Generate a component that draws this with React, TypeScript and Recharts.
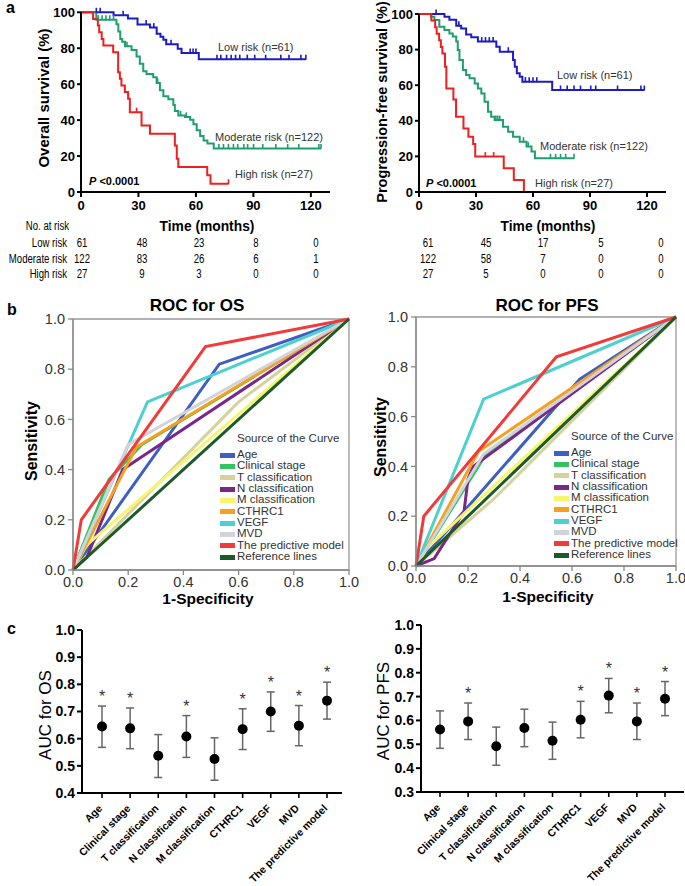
import React from 'react';
import { ComposedChart, Line, Scatter, XAxis, YAxis, ReferenceArea, ErrorBar } from 'recharts';

const FONT = 'Arial, "Liberation Sans", sans-serif';

// ---------- Panel a: Kaplan-Meier ----------
const kmTicksX = [0, 30, 60, 90, 120];
const kmTicksY = [0, 20, 40, 60, 80, 100];

const osLow: [number, number][] = [[0, 100], [17, 98.3], [24.5, 96.6], [29.5, 93.2], [36, 91.5], [39.5, 88.1], [41.5, 86.4], [43, 84.7], [44.5, 82.2], [50.5, 79.7], [52.5, 77.3], [61.5, 73.9], [117.4, 73.9]];
const osLowCens = [8, 10, 22, 34, 38, 47, 57, 58.5, 60, 71, 73, 76, 78.4, 80.7, 82.9, 86.8, 90.7, 96.4, 104.3, 108.6, 114.8, 117.4];
const osMod: [number, number][] = [[0, 100], [8, 95.9], [18.5, 93.4], [19.5, 89.3], [20.5, 85.2], [21.5, 83.6], [23, 81.1], [26.4, 79], [29, 75.4], [30.7, 71.3], [32.5, 67.2], [34.2, 65.6], [37.7, 63.9], [39.5, 60.7], [41.2, 56.6], [43, 53.3], [45.6, 51.6], [48.2, 48.4], [49, 45.1], [50.8, 42.6], [54.3, 41.8], [57, 40.2], [58.7, 37.7], [60.4, 34.4], [62.2, 31.1], [64, 28.7], [66, 27], [69.3, 24.2], [125.3, 24.2]];
const osModCens = [9, 11, 13, 15, 17, 24, 40, 52, 55, 72, 74.4, 77, 79.6, 81.8, 85, 87, 90.1, 94.9, 101.7, 107.9, 113.7, 124.2, 125.3];
const osHigh: [number, number][] = [[0, 100], [6.3, 96.3], [8.8, 92.6], [9.5, 88.9], [10.8, 85.2], [11.7, 81.5], [16.8, 77.8], [19.4, 66.7], [20.3, 63], [21.1, 59.3], [22.9, 55.6], [24.6, 51.9], [25.5, 44.4], [31.6, 37], [36, 32.4], [49, 25.9], [50, 18.5], [50.8, 13.9], [65.9, 9.3], [67.6, 4.6], [77, 4.6]];
const osHighCens = [29, 77];

const pfsLow: [number, number][] = [[0, 100], [13.4, 98.4], [16, 96.7], [19.6, 93.4], [22.2, 91.8], [24.8, 88.5], [27.5, 86.9], [31, 84.5], [40.7, 81.6], [42.5, 78.8], [49.5, 74.2], [50.4, 70.4], [51.5, 66.7], [53, 64.8], [54.4, 62], [70.1, 57.3], [118.6, 57.3]];
const pfsLowCens = [9, 21, 33, 35, 37, 39, 47, 56, 58, 60, 62, 74.5, 78, 81.6, 85, 90.4, 93, 104.5, 116.8, 118.6];
const pfsMod: [number, number][] = [[0, 100], [6.3, 98.4], [8.1, 96.6], [10.7, 92.9], [13.4, 91], [16, 89.1], [17.8, 87.3], [19.6, 84.5], [20.4, 79.8], [21.3, 74.2], [23.1, 68.5], [24.8, 65.7], [26.6, 63.9], [29.3, 61], [31, 58.2], [32.8, 55.4], [34.5, 50.7], [36.3, 45.1], [38, 42.3], [39.8, 40.4], [44.2, 36.7], [46.9, 33.9], [49.5, 31.1], [53, 28.3], [56.6, 25.5], [59.2, 22.7], [61, 18.9], [81.6, 18.9]];
const pfsModCens = [40.5, 41.5, 42.5, 55, 57.5, 69.2, 71.9, 74.5, 77.2, 81.6];
const pfsHigh: [number, number][] = [[0, 100], [6.5, 96.3], [8.5, 92.6], [9.3, 88.9], [10.6, 85.2], [11.5, 81.5], [12.3, 77.8], [13.7, 70.4], [14.4, 58.2], [18.1, 51.9], [19.5, 42.3], [23.4, 35.7], [26, 31], [28.5, 27], [29.6, 19.9], [44.6, 13.3], [49.9, 6.7], [55.2, 0]];
const pfsHighCens = [34.9, 39.3];

const atRiskGroups = ['Low risk', 'Moderate risk', 'High risk'];
const osAtRisk = [[61, 48, 23, 8, 0], [122, 83, 26, 6, 1], [27, 9, 3, 0, 0]];
const pfsAtRisk = [[61, 45, 17, 5, 0], [122, 58, 7, 0, 0], [27, 5, 0, 0, 0]];

const KM_LOW = '#1c1cc0';
const KM_MOD = '#1f9e6e';
const KM_HIGH = '#ee1f1f';

// ---------- Panel b: ROC ----------
const rocNames = ['Age', 'Clinical stage', 'T classification', 'N classification', 'M classification', 'CTHRC1', 'VEGF', 'MVD', 'The predictive model', 'Reference lines'];
const rocColors = ['#3e5fc2', '#35c262', '#d5d29c', '#7a2888', '#f7f56e', '#f5a11f', '#4dd0cf', '#d2d2da', '#f23a3a', '#1d5a2a'];
const rocOS: [number, number][][] = [
  [[0, 0], [0.53, 0.82], [1, 1]],
  [[0, 0], [0.13, 0.36], [0.25, 0.5], [1, 1]],
  [[0, 0], [0.6, 0.67], [1, 1]],
  [[0, 0], [0.05, 0.05], [0.18, 0.4], [1, 1]],
  [[0, 0], [0.05, 0.1], [1, 1]],
  [[0, 0], [0.15, 0.32], [0.23, 0.49], [1, 1]],
  [[0, 0], [0.27, 0.67], [1, 1]],
  [[0, 0], [0.2, 0.5], [1, 1]],
  [[0, 0], [0.03, 0.2], [0.48, 0.89], [1, 1]],
  [[0, 0], [1, 1]],
];
const rocPFS: [number, number][][] = [
  [[0, 0], [0.63, 0.75], [1, 1]],
  [[0, 0], [0.27, 0.45], [1, 1]],
  [[0, 0], [0.3, 0.27], [1, 1]],
  [[0, 0], [0.07, 0.03], [0.185, 0.22], [0.2, 0.35], [0.22, 0.4], [1, 1]],
  [[0, 0], [0.04, 0.07], [1, 1]],
  [[0, 0], [0.24, 0.46], [1, 1]],
  [[0, 0], [0.26, 0.67], [1, 1]],
  [[0, 0], [0.26, 0.45], [1, 1]],
  [[0, 0], [0.03, 0.2], [0.54, 0.84], [1, 1]],
  [[0, 0], [1, 1]],
];
const rocTicks = [0, 0.2, 0.4, 0.6, 0.8, 1.0];

// ---------- Panel c: AUC ----------
const aucCats = ['Age', 'Clinical stage', 'T classification', 'N classification', 'M classification', 'CTHRC1', 'VEGF', 'MVD', 'The predictive model'];
const osAuc = [0.645, 0.638, 0.537, 0.608, 0.525, 0.635, 0.700, 0.648, 0.740];
const osLo = [0.568, 0.563, 0.457, 0.531, 0.447, 0.560, 0.627, 0.574, 0.672];
const osHi = [0.720, 0.713, 0.615, 0.685, 0.603, 0.710, 0.772, 0.722, 0.808];
const osSig = [true, true, false, true, false, true, true, true, true];
const pfsAuc = [0.562, 0.596, 0.492, 0.568, 0.515, 0.603, 0.704, 0.596, 0.691];
const pfsLo = [0.483, 0.520, 0.412, 0.490, 0.437, 0.527, 0.632, 0.520, 0.620];
const pfsHi = [0.640, 0.673, 0.572, 0.647, 0.593, 0.680, 0.776, 0.673, 0.763];
const pfsSig = [false, true, false, false, false, true, true, true, true];
const osAucTicks = [0.4, 0.5, 0.6, 0.7, 0.8, 0.9, 1.0];
const pfsAucTicks = [0.3, 0.4, 0.5, 0.6, 0.7, 0.8, 0.9, 1.0];

// ---------- helpers ----------
const toSteps = (a: [number, number][]) => a.map(([t, s]) => ({ t, s }));
const survAt = (a: [number, number][], t: number) => {
  let s = a[0][1];
  for (const [tt, ss] of a) if (tt <= t) s = ss;
  return s;
};
const toCens = (a: [number, number][], times: number[]) => times.map((t) => ({ t, s: survAt(a, t) }));
const toXY = (a: [number, number][]) => a.map(([x, y]) => ({ x, y }));
const aucRows = (auc: number[], lo: number[], hi: number[], sig: boolean[]) =>
  aucCats.map((name, i) => ({ name, auc: auc[i], hi: hi[i], sig: sig[i], err: [auc[i] - lo[i], hi[i] - auc[i]] }));

const censorShape = (color: string) => (p: any) =>
  p.cx == null ? <g /> : <line x1={p.cx} x2={p.cx} y1={p.cy - 4.5} y2={p.cy + 0.5} stroke={color} strokeWidth={1.6} />;

const Txt = ({ x, y, children, size = 12, weight = 400, anchor = 'start', color = '#000', rotate = false, sx = 1 }: any) => {
  const tx = anchor === 'middle' ? '-50%' : anchor === 'end' ? '-100%' : '0';
  const origin = anchor === 'middle' ? 'center' : anchor === 'end' ? 'right' : 'left';
  return (
    <div
      style={{
        position: 'absolute', left: x, top: y, fontSize: size, fontWeight: weight, color, fontFamily: FONT,
        whiteSpace: 'nowrap', lineHeight: 1, transform: rotate ? 'translate(-50%,-50%) rotate(-90deg)' : `translate(${tx},-50%)`,
      }}
    >
      <span style={{ display: 'inline-block', transform: sx !== 1 ? `scaleX(${sx})` : undefined, transformOrigin: origin }}>{children}</span>
    </div>
  );
};

const Box = ({ left, top, children }: any) => <div style={{ position: 'absolute', left, top }}>{children}</div>;

function KMChart({ w, h, margin, yw, groups }: any) {
  return (
    <ComposedChart width={w} height={h} margin={margin}>
      <XAxis type="number" dataKey="t" domain={[0, 130]} ticks={kmTicksX} allowDataOverflow height={20}
        tick={{ fontSize: 13, fontWeight: 700, fill: '#000', fontFamily: FONT }} tickSize={5} tickMargin={4}
        axisLine={{ stroke: '#000', strokeWidth: 2 }} tickLine={{ stroke: '#000', strokeWidth: 2 }} />
      <YAxis type="number" domain={[0, 100]} ticks={kmTicksY} width={yw}
        tick={{ fontSize: 13, fontWeight: 700, fill: '#000', fontFamily: FONT }} tickSize={4} tickMargin={2}
        axisLine={{ stroke: '#000', strokeWidth: 2 }} tickLine={{ stroke: '#000', strokeWidth: 2 }} />
      {groups.map((g: any, i: number) => (
        <Line key={'l' + i} data={toSteps(g.steps)} dataKey="s" type="stepAfter" stroke={g.color} strokeWidth={2} dot={false} isAnimationActive={false} />
      ))}
      {groups.map((g: any, i: number) => (
        <Scatter key={'c' + i} data={toCens(g.steps, g.cens)} dataKey="s" shape={censorShape(g.color)} isAnimationActive={false} />
      ))}
    </ComposedChart>
  );
}

function ROCChart({ w, h, margin, yw, curves }: any) {
  const tickStyle = { fontSize: 14.5, fill: '#333', fontFamily: FONT };
  return (
    <ComposedChart width={w} height={h} margin={margin}>
      <XAxis type="number" dataKey="x" domain={[0, 1]} ticks={rocTicks} tickFormatter={(v: number) => v.toFixed(1)} height={30}
        tick={tickStyle} tickSize={5} tickMargin={2} axisLine={{ stroke: '#888', strokeWidth: 1.3 }} tickLine={{ stroke: '#888', strokeWidth: 1.3 }} />
      <YAxis type="number" domain={[0, 1]} ticks={rocTicks} tickFormatter={(v: number) => v.toFixed(1)} width={yw}
        tick={tickStyle} tickSize={5} tickMargin={3} axisLine={{ stroke: '#888', strokeWidth: 1.3 }} tickLine={{ stroke: '#888', strokeWidth: 1.3 }} />
      <ReferenceArea x1={0} x2={1} y1={0} y2={1} fill="none" stroke="#999" strokeWidth={1.3} ifOverflow="visible" />
      {curves.map((c: [number, number][], i: number) => (
        <Line key={i} data={toXY(c)} dataKey="y" type="linear" stroke={rocColors[i]} strokeWidth={3} dot={false} isAnimationActive={false} />
      ))}
    </ComposedChart>
  );
}

const RotTick = (p: any) => {
  const { x, y, payload } = p;
  const ax = x + 1;
  const ay = y + 9;
  return (
    <text x={ax} y={ay} transform={`rotate(-45 ${ax} ${ay})`} textAnchor="end" fontSize={10.5} fontWeight={700} fontFamily={FONT} fill="#000">
      {payload.value}
    </text>
  );
};

const dotShape = (p: any) => (p.cx == null ? <g /> : <circle cx={p.cx} cy={p.cy} r={5} fill="#000" />);
const starShape = (p: any) =>
  p.cx == null || !p.payload.sig ? <g /> : (
    <text x={p.cx} y={p.cy - 4} textAnchor="middle" fontSize={16} fill="#333" fontFamily={FONT}>*</text>
  );

function AUCChart({ w, h, margin, yw, rows, domain, ticks, pad }: any) {
  return (
    <ComposedChart width={w} height={h} margin={margin} data={rows}>
      <XAxis type="category" dataKey="name" interval={0} height={80} padding={pad} tick={<RotTick />} tickSize={5}
        axisLine={{ stroke: '#000', strokeWidth: 2 }} tickLine={{ stroke: '#000', strokeWidth: 1.6 }} />
      <YAxis type="number" domain={domain} ticks={ticks} tickFormatter={(v: number) => v.toFixed(1)} width={yw}
        tick={{ fontSize: 14, fontWeight: 700, fill: '#000', fontFamily: FONT }} tickSize={5} tickMargin={2}
        axisLine={{ stroke: '#000', strokeWidth: 2 }} tickLine={{ stroke: '#000', strokeWidth: 2 }} />
      <Scatter dataKey="auc" shape={dotShape} isAnimationActive={false}>
        <ErrorBar dataKey="err" direction="y" width={4} stroke="#666" strokeWidth={1.5} />
      </Scatter>
      <Scatter dataKey="hi" shape={starShape} isAnimationActive={false} />
    </ComposedChart>
  );
}

const Legend = ({ y, swatchX, textX }: any) => (
  <>
    <Txt x={textX} y={y} size={11.5} color="#333">Source of the Curve</Txt>
    {rocNames.map((n, i) => (
      <React.Fragment key={n}>
        <div style={{ position: 'absolute', left: swatchX, top: y + 16 + i * 11.35 - 2.5, width: 15, height: 5, background: rocColors[i] }} />
        <Txt x={textX} y={y + 16 + i * 11.35} size={11.5} color="#333">{n}</Txt>
      </React.Fragment>
    ))}
  </>
);

export default function App() {
  const leftCols = [82, 142, 199, 256, 316];
  const rightCols = [428, 486, 543, 601, 661];
  const rowY = [243, 259, 274];
  const SX = 0.8;
  return (
    <div style={{ position: 'absolute', left: 0, top: 0, width: 685, height: 886, background: '#fff', overflow: 'hidden', fontFamily: FONT }}>
      {/* Panel a */}
      <Txt x={6} y={8} size={16} weight={700}>a</Txt>
      <Box left={0} top={0}>
        <KMChart w={340} h={215} yw={81} margin={{ top: 12.3, right: 10, bottom: 3, left: 0 }}
          groups={[{ steps: osLow, cens: osLowCens, color: KM_LOW }, { steps: osMod, cens: osModCens, color: KM_MOD }, { steps: osHigh, cens: osHighCens, color: KM_HIGH }]} />
      </Box>
      <Box left={340} top={0}>
        <KMChart w={345} h={215} yw={79} margin={{ top: 14, right: 19, bottom: 3, left: 0 }}
          groups={[{ steps: pfsLow, cens: pfsLowCens, color: KM_LOW }, { steps: pfsMod, cens: pfsModCens, color: KM_MOD }, { steps: pfsHigh, cens: pfsHighCens, color: KM_HIGH }]} />
      </Box>
      <Txt x={43} y={98} size={15} weight={700} rotate>Overall survival (%)</Txt>
      <Txt x={382} y={102} size={14.5} weight={700} rotate>Progression-free survival (%)</Txt>
      <Txt x={218} y={47} size={11} color="#333">Low risk (n=61)</Txt>
      <Txt x={215} y={137} size={11} color="#333">Moderate risk (n=122)</Txt>
      <Txt x={235} y={174} size={11} color="#333">High risk (n=27)</Txt>
      <Txt x={89} y={181} size={11} weight={700}><i>P</i> &lt;0.0001</Txt>
      <Txt x={557} y={75} size={11} color="#333">Low risk (n=61)</Txt>
      <Txt x={540} y={146} size={11} color="#333">Moderate risk (n=122)</Txt>
      <Txt x={535} y={183} size={11} color="#333">High risk (n=27)</Txt>
      <Txt x={426} y={183} size={11} weight={700}><i>P</i> &lt;0.0001</Txt>
      <Txt x={207} y={225} size={15} weight={700} anchor="middle" sx={0.92}>Time (months)</Txt>
      <Txt x={548} y={225} size={15} weight={700} anchor="middle" sx={0.92}>Time (months)</Txt>
      <Txt x={69} y={226} size={12} anchor="end" sx={SX}>No. at risk</Txt>
      {atRiskGroups.map((g, r) => (
        <Txt key={g} x={67} y={rowY[r]} size={12} anchor="end" sx={SX}>{g}</Txt>
      ))}
      {osAtRisk.map((row, r) => row.map((v, c) => (
        <Txt key={'o' + r + c} x={leftCols[c]} y={rowY[r]} size={12} anchor="middle" sx={SX}>{v}</Txt>
      )))}
      {pfsAtRisk.map((row, r) => row.map((v, c) => (
        <Txt key={'p' + r + c} x={rightCols[c]} y={rowY[r]} size={12} anchor="middle" sx={SX}>{v}</Txt>
      )))}

      {/* Panel b */}
      <Txt x={7} y={310} size={16} weight={700}>b</Txt>
      <Txt x={197} y={305} size={17} weight={700} anchor="middle">ROC for OS</Txt>
      <Txt x={547} y={305} size={17} weight={700} anchor="middle">ROC for PFS</Txt>
      <Box left={0} top={290}>
        <ROCChart w={360} h={320} yw={73} margin={{ top: 29, right: 11, bottom: 10, left: 0 }} curves={rocOS} />
      </Box>
      <Box left={360} top={290}>
        <ROCChart w={325} h={320} yw={56} margin={{ top: 27, right: 9, bottom: 14, left: 0 }} curves={rocPFS} />
      </Box>
      <Txt x={32} y={441} size={16} weight={700} rotate>Sensitivity</Txt>
      <Txt x={381} y={437} size={16} weight={700} rotate>Sensitivity</Txt>
      <Txt x={208} y={599} size={15.5} weight={700} anchor="middle">1-Specificity</Txt>
      <Txt x={548} y={597} size={15.5} weight={700} anchor="middle">1-Specificity</Txt>
      <Legend y={439} swatchX={220} textX={237} />
      <Legend y={437} swatchX={554} textX={571} />

      {/* Panel c */}
      <Txt x={7} y={629} size={16} weight={700}>c</Txt>
      <Box left={0} top={600}>
        <AUCChart w={350} h={286} yw={82} margin={{ top: 30, right: 8, bottom: 13, left: 0 }} rows={aucRows(osAuc, osLo, osHi, osSig)}
          domain={[0.4, 1.0]} ticks={osAucTicks} pad={{ left: 20, right: 15 }} />
      </Box>
      <Box left={350} top={600}>
        <AUCChart w={335} h={286} yw={71} margin={{ top: 25, right: 1, bottom: 14, left: 0 }} rows={aucRows(pfsAuc, pfsLo, pfsHi, pfsSig)}
          domain={[0.3, 1.0]} ticks={pfsAucTicks} pad={{ left: 19, right: 19 }} />
      </Box>
      <Txt x={45} y={715} size={17} rotate>AUC for OS</Txt>
      <Txt x={383} y={711} size={17} rotate>AUC for PFS</Txt>
    </div>
  );
}
